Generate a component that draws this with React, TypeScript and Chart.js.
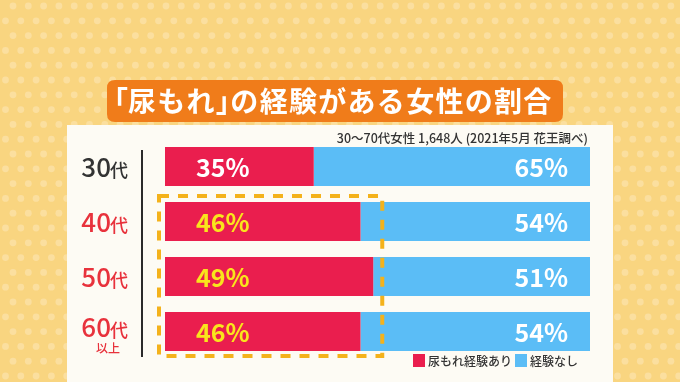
import React, { useEffect, useRef } from "react";
import { Chart, registerables } from "chart.js";

Chart.register(...registerables);

const categories = ["30", "40", "50", "60"];
const categorySuffix = "代";
const categorySub = ["", "", "", "以上"];
const categoryColors = ["#333333", "#e8323c", "#e8323c", "#e8323c"];
const yesValues = [35, 46, 49, 46];
const noValues = [65, 54, 51, 54];
const seriesNames = ["尿もれ経験あり", "経験なし"];
const titleText = "「尿もれ」の経験がある女性の割合";
const subtitleText = "30〜70代女性 1,648人 (2021年5月 花王調べ)";
const highlightFrom = 1;
const highlightTo = 3;
const highlightMax = 51;

const RED = "#ea1e4e";
const BLUE = "#5bbdf6";
const FONT = '"Noto Sans CJK JP", "Noto Sans", sans-serif';

function roundRect(ctx: CanvasRenderingContext2D, x: number, y: number, w: number, h: number, r: number) {
  ctx.beginPath();
  ctx.moveTo(x + r, y);
  ctx.lineTo(x + w - r, y);
  ctx.quadraticCurveTo(x + w, y, x + w, y + r);
  ctx.lineTo(x + w, y + h - r);
  ctx.quadraticCurveTo(x + w, y + h, x + w - r, y + h);
  ctx.lineTo(x + r, y + h);
  ctx.quadraticCurveTo(x, y + h, x, y + h - r);
  ctx.lineTo(x, y + r);
  ctx.quadraticCurveTo(x, y, x + r, y);
  ctx.closePath();
}

function drawTitle(ctx: CanvasRenderingContext2D, text: string, cx: number, cy: number, fs: number) {
  ctx.font = `bold ${fs}px ${FONT}`;
  ctx.textAlign = "left";
  ctx.textBaseline = "middle";
  const chars = Array.from(text);
  const half = fs * 0.48;
  const items = chars.map((ch) => {
    const w = ctx.measureText(ch).width;
    if (ch === "「") return { ch, dx: -half, adv: w - half };
    if (ch === "」") return { ch, dx: 0, adv: w - half };
    return { ch, dx: 0, adv: w + 1.3 };
  });
  const total = items.reduce((s, it) => s + it.adv, 0);
  let x = cx - total / 2;
  items.forEach((it) => {
    ctx.fillText(it.ch, x + it.dx, cy);
    x += it.adv;
  });
}

const decorPlugin = {
  id: "decor",
  beforeDraw(chart: any) {
    const ctx: CanvasRenderingContext2D = chart.ctx;
    const W = chart.width;
    const H = chart.height;
    ctx.save();
    ctx.fillStyle = "#f9d580";
    ctx.fillRect(0, 0, W, H);
    ctx.fillStyle = "#fbdf9f";
    let row = 0;
    for (let y = 6; y < H + 10; y += 14.8) {
      const off = row % 2 === 0 ? 13 : 5.5;
      for (let x = off; x < W + 10; x += 15.3) {
        ctx.beginPath();
        ctx.arc(x, y, 3.4, 0, Math.PI * 2);
        ctx.fill();
      }
      row++;
    }
    // panel
    ctx.fillStyle = "#fdfbf4";
    ctx.fillRect(67, 125, 546, H - 125);
    // title box
    ctx.fillStyle = "#f07c1a";
    roundRect(ctx, 107, 80, 456, 42, 8);
    ctx.fill();
    ctx.fillStyle = "#ffffff";
    drawTitle(ctx, titleText, 333, 101, 28);
    // subtitle
    ctx.fillStyle = "#333333";
    ctx.font = `500 12.5px ${FONT}`;
    ctx.textAlign = "right";
    ctx.textBaseline = "middle";
    ctx.fillText(subtitleText, 588, 138);
    ctx.restore();
  },
  afterDatasetsDraw(chart: any) {
    const ctx: CanvasRenderingContext2D = chart.ctx;
    const xs = chart.scales.x;
    const ys = chart.scales.y;
    const step = ys.getPixelForValue(1) - ys.getPixelForValue(0);
    ctx.save();
    // axis line
    ctx.strokeStyle = "#2a2a2a";
    ctx.lineWidth = 2;
    ctx.beginPath();
    ctx.moveTo(142, ys.getPixelForValue(0) - step / 2 + 11);
    ctx.lineTo(142, ys.getPixelForValue(categories.length - 1) + step / 2 - 2);
    ctx.stroke();

    // category labels
    categories.forEach((c, i) => {
      const cy = ys.getPixelForValue(i);
      const base = cy + (categorySub[i] ? 5.5 : 10.5);
      ctx.fillStyle = categoryColors[i];
      ctx.textBaseline = "alphabetic";
      ctx.textAlign = "left";
      ctx.font = `500 18px ${FONT}`;
      const sw = ctx.measureText(categorySuffix).width;
      ctx.font = `500 26px ${FONT}`;
      const nw = ctx.measureText(c).width;
      const right = 128;
      ctx.fillText(c, right - sw - nw + 1, base);
      ctx.font = `500 18px ${FONT}`;
      ctx.fillText(categorySuffix, right - sw, base);
      if (categorySub[i]) {
        ctx.font = `500 12px ${FONT}`;
        ctx.textAlign = "center";
        ctx.fillText(categorySub[i], 108, base + 16);
      }
    });

    // value labels
    categories.forEach((_, i) => {
      const cy = ys.getPixelForValue(i);
      ctx.font = `bold 25px ${FONT}`;
      ctx.textBaseline = "alphabetic";
      ctx.textAlign = "left";
      ctx.fillStyle = i >= highlightFrom && i <= highlightTo ? "#f9e51c" : "#ffffff";
      ctx.fillText(`${yesValues[i]}%`, xs.getPixelForValue(0) + 31, cy + 10.5);
      ctx.textAlign = "right";
      ctx.fillStyle = "#ffffff";
      ctx.fillText(`${noValues[i]}%`, xs.getPixelForValue(100) - 22, cy + 10.5);
    });

    // highlight dashed box
    ctx.strokeStyle = "#f4b21b";
    ctx.lineWidth = 4;
    ctx.setLineDash([10, 9]);
    const left = xs.getPixelForValue(0) - 6;
    const right = xs.getPixelForValue(highlightMax) + 0.5;
    const top = ys.getPixelForValue(highlightFrom) - step / 2 + 2;
    const bottom = ys.getPixelForValue(highlightTo) + step / 2 - 3;
    ctx.strokeRect(left, top, right - left, bottom - top);
    ctx.setLineDash([]);

    // legend
    const colors = [RED, BLUE];
    const lx = [413, 515];
    ctx.font = `500 12px ${FONT}`;
    ctx.textAlign = "left";
    ctx.textBaseline = "middle";
    seriesNames.forEach((n, i) => {
      ctx.fillStyle = colors[i];
      ctx.fillRect(lx[i], 354, 12, 13);
      ctx.fillStyle = "#333333";
      ctx.fillText(n, lx[i] + 15, 361);
    });
    ctx.restore();
  },
};

export default function App() {
  const ref = useRef<HTMLCanvasElement | null>(null);
  useEffect(() => {
    if (!ref.current) return;
    const chart = new Chart(ref.current, {
      type: "bar",
      data: {
        labels: categories.map((c) => c + categorySuffix),
        datasets: [
          { label: seriesNames[0], data: yesValues, backgroundColor: RED, borderWidth: 0, barPercentage: 1, categoryPercentage: 39 / 55 },
          { label: seriesNames[1], data: noValues, backgroundColor: BLUE, borderWidth: 0, barPercentage: 1, categoryPercentage: 39 / 55 },
        ],
      },
      options: {
        indexAxis: "y",
        responsive: false,
        animation: false,
        layout: { padding: { left: 165, right: 90, top: 139, bottom: 23 } },
        scales: {
          x: { stacked: true, min: 0, max: 100, display: false },
          y: { stacked: true, display: false },
        },
        plugins: { legend: { display: false }, tooltip: { enabled: false } },
      },
      plugins: [decorPlugin],
    } as any);
    return () => chart.destroy();
  }, []);
  return (
    <div style={{ position: "absolute", left: 0, top: 0, width: 680, height: 382 }}>
      <canvas ref={ref} width={680} height={382} />
    </div>
  );
}
